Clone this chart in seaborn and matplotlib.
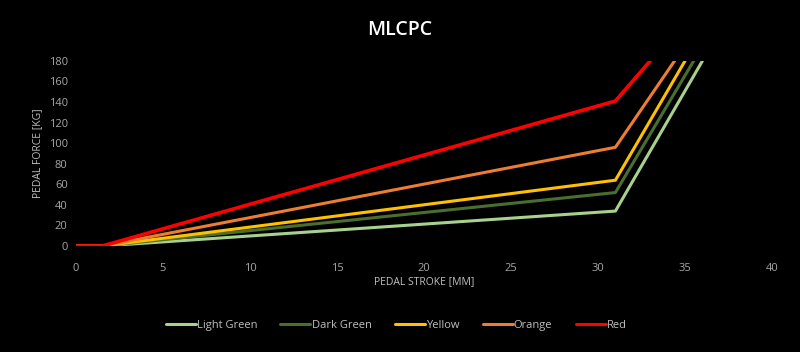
import matplotlib
matplotlib.use("Agg")
import matplotlib.pyplot as plt
import seaborn as sns
import pandas as pd

series = ["Light Green", "Dark Green", "Yellow", "Orange", "Red"]
colors = ["#a9d18e", "#4a6e2e", "#ffc000", "#ed7d31", "#ff0000"]
stroke_start = [0, 1.5, 31]
force_at_31 = [34, 52, 64, 96, 141]
stroke_at_180 = [36.0, 35.5, 35.0, 34.4, 33.0]

rows = []
for name, f31, s180 in zip(series, force_at_31, stroke_at_180):
    xs = stroke_start + [s180]
    ys = [0, 0, f31, 180]
    for i, (x, y) in enumerate(zip(xs, ys)):
        rows.append({"Series": name, "Stroke": x, "Force": y, "order": i})
df = pd.DataFrame(rows)

sns.set_theme(style="dark")
plt.rcParams["font.family"] = ["Open Sans", "DejaVu Sans"]
fig = plt.figure(figsize=(8, 3.52), dpi=100, facecolor="black")
ax = fig.add_axes([0.095, 0.301, 0.87, 0.526])
ax.set_facecolor("black")

sns.lineplot(data=df, x="Stroke", y="Force", hue="Series", hue_order=series,
             palette=colors, sort=False, estimator=None, units="Series",
             linewidth=2.2, ax=ax, legend=True)
for ln, name in zip(ax.get_lines(), series):
    if name == "Red":
        ln.set_linewidth(2.6)

ax.set_xlim(0, 40)
ax.set_ylim(0, 180)
ax.set_xticks(range(0, 41, 5))
ax.set_yticks(range(0, 181, 20))
ax.tick_params(axis="x", colors="#a6a6a6", labelsize=8, length=0, pad=12)
ax.tick_params(axis="y", colors="#a6a6a6", labelsize=8, length=0, pad=6)
for s in ax.spines.values():
    s.set_visible(False)
ax.grid(False)
ax.set_xlabel("PEDAL STROKE [MM]", color="#bfbfbf", fontsize=7.5, labelpad=2)
ax.set_ylabel("PEDAL FORCE [KG]", color="#bfbfbf", fontsize=7.5, labelpad=4)
fig.text(0.5, 0.915, "MLCPC", color="white", fontsize=14, fontweight="semibold",
         ha="center", va="center")

handles, labels = ax.get_legend_handles_labels()
ax.legend(handles=handles, labels=labels, loc="center", bbox_to_anchor=(0.46, -0.43),
          ncol=5, frameon=False, fontsize=8, labelcolor="#bfbfbf",
          handlelength=2.7, handletextpad=0.1, columnspacing=2.1)

fig.savefig("out.png", dpi=100, facecolor="black")
